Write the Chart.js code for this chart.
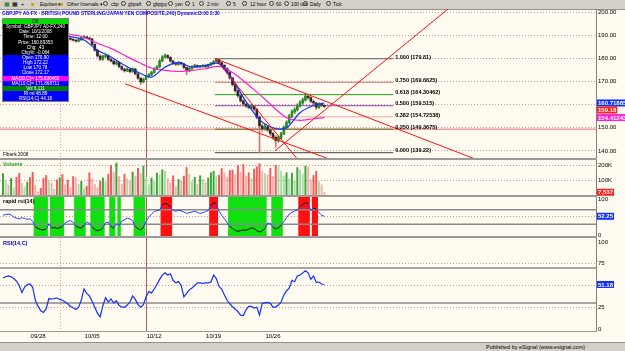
<!DOCTYPE html>
<html>
<head>
<meta charset="utf-8">
<script src="https://cdn.jsdelivr.net/npm/chart.js@4.4.1/dist/chart.umd.min.js"></script>
<style>
  body { margin: 0; width: 625px; height: 351px; overflow: hidden; background: #fffbf0;
         font-family: "Liberation Sans", Arial, sans-serif; position: relative; }
  canvas { position: absolute; left: 0; }
  .bar { position: absolute; left: 0; width: 625px; background: #d4d0c8; }
  .tb { position: absolute; top: 1.5px; font-size: 4.8px; color: #000; white-space: nowrap; }
  .ic { position: absolute; top: 1px; width: 5px; height: 5px; border: 1px solid #404040; border-radius: 50%; box-sizing: border-box; }
  .sep { position: absolute; left: 0; width: 597px; height: 2px; background: #9a9a9a; }
  .lbl { position: absolute; left: 3px; font-size: 5.5px; font-weight: bold; white-space: nowrap; }
  #legend { position: absolute; left: 2px; top: 18px; width: 65px; font-size: 4.6px; color: #fff; text-align: center; border: 1px solid #808080; }
  #legend div { height: 5.15px; line-height: 5.2px; white-space: nowrap; overflow: hidden; }
</style>
</head>
<body>

<div class="bar" style="top:0;height:9px;border-bottom:1px solid #909090"></div>
<span class="tb" style="left:4px;color:#207020;font-size:5.5px;top:1px">&#9638;</span>
<span class="tb" style="left:12px;font-size:5.5px;top:1px">&#9638;</span>
<span class="tb" style="left:21px;font-size:5.5px;top:1px">+</span>
<span class="tb" style="left:31px;color:#c8a000;font-size:5.5px;top:1px">&#9632;</span><span class="tb" style="left:40px">Equities &#9662;</span>
<span class="tb" style="left:60px;color:#c8a000;font-size:5.5px;top:1px">&#9632;</span><span class="tb" style="left:67px">Other Intervals &#9662;</span>
<span class="ic" style="left:103px"></span><span class="tb" style="left:111px">cbp</span>
<span class="ic" style="left:121px"></span><span class="tb" style="left:128px">gbpaft</span>
<span class="ic" style="left:146px"></span><span class="tb" style="left:153px">gbpjpy</span>
<span class="ic" style="left:168px"></span><span class="tb" style="left:175px">yen</span>
<span class="ic" style="left:185px"></span><span class="tb" style="left:192px">1</span>
<span class="ic" style="left:199px"></span><span class="tb" style="left:207px">2 min</span>
<span class="ic" style="left:226px"></span><span class="tb" style="left:233px">5</span>
<span class="ic" style="left:242px"></span><span class="tb" style="left:250px">12 hour</span>
<span class="ic" style="left:269px"></span><span class="tb" style="left:276px">60</span>
<span class="ic" style="left:284px"></span><span class="tb" style="left:291px">100 tick</span>
<span class="ic" style="left:303px"></span><span class="tb" style="left:310px">Daily</span>
<span class="ic" style="left:326px"></span><span class="tb" style="left:333px">Tick</span>

<canvas id="cPrice" width="625" height="150" style="top:9px"></canvas>
<canvas id="cVol" width="625" height="36" style="top:160px"></canvas>
<canvas id="cRapid" width="625" height="40" style="top:197px"></canvas>
<canvas id="cRsi" width="625" height="104" style="top:238px"></canvas>

<div class="sep" style="top:158px"></div>
<div class="sep" style="top:195px"></div>
<div class="sep" style="top:236px"></div>
<div class="sep" style="top:330.5px;height:1.5px"></div>

<div class="lbl" style="top:9.5px;left:2px;color:#0000ff;transform:scaleX(0.885);transform-origin:0 0">GBPJPY A0-FX - BRITISH POUND STERLING/JAPAN YEN COMPOSITE,240) Dynamic\3:00 2:30</div>
<div class="lbl" style="top:152px;font-weight:normal;font-size:4.6px;color:#000">Fibank 2008</div>
<div class="lbl" style="top:161px;color:#20a020">Volume</div>
<div class="lbl" style="top:198px;color:#000">rapid rsi(14)</div>
<div class="lbl" style="top:240px;color:#0000c0">RSI(14,C)</div>

<div id="legend">
  <div style="background:#00e000;color:#000">OK</div>
  <div style="background:#000">Symbol: GBPJPY A0-FX,240</div>
  <div style="background:#000">Date: 10/1/2008</div>
  <div style="background:#000">Time: 12:00</div>
  <div style="background:#000">Price: 160.89353</div>
  <div style="background:#000">Chg: .43</div>
  <div style="background:#000">Chg%: -0.084</div>
  <div style="background:#0000ff">Open 170.90</div>
  <div style="background:#0000ff">High 172.22</div>
  <div style="background:#0000ff">Low 170.78</div>
  <div style="background:#0000ff">Close 172.17</div>
  <div style="background:#ff00ff">MA(20,C)= 175.836465</div>
  <div style="background:#0000ff">MA(10,C)= 171.868711</div>
  <div style="background:#008000">Vol 6,111</div>
  <div style="background:#0000ff">RI rsi 48.89</div>
  <div style="background:#0000ff">RSI(14,C) 44.18</div>
</div>

<div class="bar" style="top:342px;height:9px;border-top:1px solid #909090"></div>
<span class="tb" style="top:344px;left:486px;font-size:5.5px">Published by eSignal (www.esignal.com)</span>

<script>
// ---- data (4-hour GBP/JPY bars) ----
const firstOpen = 193.2;
const closes = [
  193.4, 193.7, 193.5, 193.9, 194.1, 193.8, 193.1, 192.6, 193.2, 193.5,
  193.3, 193.0, 192.1, 191.2, 190.3, 189.4, 189.0, 189.6, 189.4, 189.7,
  189.5, 189.8, 189.4, 189.0, 188.6, 188.2, 187.8, 187.4, 188.0, 188.9,
  189.3, 188.7, 188.4, 186.0, 183.5, 181.0, 179.6, 180.8, 181.2, 179.5,
  178.8, 177.6, 178.2, 176.4, 175.3, 174.6, 175.2, 174.2, 175.4, 173.3,
  171.4, 169.8, 170.9, 172.2, 172.9, 173.9, 175.4, 176.3, 178.9, 180.6,
  181.2, 180.4, 178.8, 177.7, 177.4, 178.1, 177.6, 176.0, 174.6, 175.6,
  176.4, 176.9, 176.3, 176.5, 176.8, 176.4, 177.1, 177.8, 178.6, 179.4,
  178.1, 177.0, 175.6, 173.9, 171.5, 168.6, 166.0, 163.8, 161.6, 160.2,
  159.4, 158.7, 159.3, 158.0, 154.6, 150.8, 149.6, 150.4, 149.0, 147.5,
  145.9, 144.5, 145.8, 147.4, 150.1, 152.3, 155.0, 156.9, 157.8, 159.6,
  160.8, 162.0, 163.6, 163.0, 161.4, 160.7, 158.8, 160.2, 159.7, 159.18
];
const highs = [
  193.8, 194.0, 194.1, 194.3, 194.6, 194.4, 194.0, 193.4, 193.5, 193.9,
  193.8, 193.6, 193.2, 192.4, 191.5, 190.6, 189.8, 190.0, 190.0, 190.1,
  190.0, 190.2, 190.1, 189.7, 189.3, 188.9, 188.5, 188.1, 188.3, 189.3,
  189.8, 189.5, 189.0, 188.6, 186.4, 183.9, 181.6, 181.3, 181.9, 181.5,
  180.1, 179.2, 178.7, 178.5, 176.8, 175.7, 175.8, 175.5, 175.9, 175.6,
  173.6, 171.7, 171.4, 172.22, 173.4, 174.4, 175.9, 176.9, 179.4, 181.1,
  181.8, 181.6, 180.8, 179.2, 178.2, 178.6, 178.4, 177.9, 176.4, 176.1,
  176.9, 177.4, 177.2, 177.0, 177.3, 177.1, 177.5, 178.3, 179.0, 179.81,
  179.7, 178.4, 177.3, 176.0, 174.3, 171.9, 169.1, 166.5, 164.3, 162.1,
  160.7, 160.0, 160.1, 159.7, 158.4, 155.1, 151.6, 151.5, 151.0, 149.6,
  148.1, 146.6, 146.4, 148.0, 150.8, 153.0, 155.7, 157.6, 158.6, 160.3,
  161.6, 162.8, 164.6, 164.2, 163.5, 162.0, 161.1, 160.8, 160.6, 160.1
];
const lows = [
  192.9, 193.1, 193.2, 193.3, 193.6, 193.4, 192.8, 192.2, 192.3, 192.9,
  193.0, 192.6, 191.8, 190.8, 189.9, 189.0, 188.6, 188.7, 189.0, 189.1,
  189.2, 189.2, 189.0, 188.6, 188.2, 187.8, 187.4, 187.0, 187.1, 187.7,
  188.6, 188.3, 187.9, 185.6, 183.0, 180.5, 179.0, 179.2, 180.3, 179.0,
  178.3, 177.1, 177.2, 175.9, 174.8, 174.0, 174.3, 173.7, 173.9, 172.8,
  170.9, 168.6, 169.4, 170.78, 171.8, 172.5, 173.5, 175.0, 175.9, 178.5,
  180.2, 179.8, 178.3, 177.2, 176.9, 177.0, 177.1, 175.5, 172.9, 174.2,
  175.2, 176.0, 175.8, 175.9, 176.1, 175.9, 176.0, 176.8, 177.4, 178.3,
  177.7, 176.5, 175.1, 173.3, 170.9, 168.0, 165.3, 163.1, 161.0, 159.5,
  158.8, 158.1, 158.2, 157.3, 153.8, 139.22, 148.4, 149.0, 148.2, 146.6,
  145.0, 141.6, 143.8, 145.2, 147.0, 149.6, 151.8, 154.4, 156.2, 157.2,
  159.0, 160.2, 161.5, 162.2, 160.8, 159.9, 157.8, 158.3, 159.1, 158.7
];
// FX bars open at the previous close
const opens = closes.map((c, i) => (i ? closes[i - 1] : firstOpen));

// volume in thousands
const volumes = [
  145, 100, 68, 112, 48, 120, 146, 80, 55, 88,
  118, 152, 65, 22, 47, 112, 132, 98, 82, 40,
  102, 118, 138, 70, 100, 55, 125, 118, 72, 93,
  45, 60, 150, 110, 72, 50, 95, 115, 88, 140,
  200, 155, 215, 125, 72, 140, 110, 98, 155, 128,
  180, 145, 195, 120, 70, 115, 92, 148, 135, 170,
  160, 112, 85, 130, 60, 105, 95, 128, 185, 140,
  90, 120, 75, 130, 105, 85, 115, 150, 160, 125,
  132, 178, 150, 120, 165, 168, 140, 198, 155, 205,
  130, 150, 112, 175, 190, 210, 160, 145, 135, 180,
  125, 200, 195, 160, 130, 150, 110, 148, 95, 185,
  170, 140, 195, 188, 105, 132, 160, 90, 70, 20
];

const rapidRsi = [
  55, 57, 58, 56, 50, 47, 45, 48, 46, 44,
  45, 38, 22, 18, 15, 14, 17, 31, 19, 21,
  18, 20, 24, 33, 38, 40, 35, 25, 21, 19,
  27, 36, 33, 22, 15, 12, 14, 20, 34, 36,
  24, 19, 32, 26, 38, 42, 47, 45, 40, 24,
  17, 14, 22, 38, 50, 58, 65, 68, 69, 84,
  88, 85, 78, 68, 66, 69, 67, 64, 60, 62,
  64, 66, 63, 60, 62, 65, 68, 82, 90, 86,
  66, 55, 45, 35, 24, 18, 13, 10, 12, 14,
  13, 16, 20, 18, 12, 8, 12, 18, 33, 32,
  22, 17, 20, 27, 38, 48, 58, 63, 67, 69,
  79, 85, 90, 87, 68, 74, 72, 62, 55, 52
];

const rsi14 = [
  58.6, 60, 61, 60, 58, 55, 50, 42, 48, 51,
  51.7, 48, 33, 26, 21, 19, 23, 35, 34.5, 35,
  35.6, 34, 33, 31, 29, 26, 24.5, 22.5, 25, 33,
  46, 41, 38, 32, 25, 18, 14, 27, 36, 31,
  34.5, 30, 32.6, 27, 25.5, 25, 27.5, 31, 38, 34,
  28, 25, 28, 37, 43, 41.5, 46, 51, 57, 62,
  64.7, 62, 63.5, 56, 53, 54.5, 50, 37, 41, 45,
  47, 50, 53, 53, 52.5, 53, 53, 54, 62, 58,
  49, 46, 39, 33, 29, 25.6, 23, 20, 16, 15.5,
  22, 26, 26, 24, 25, 16, 29.5, 30, 30.5, 29.5,
  25, 25.5, 27.6, 31, 39, 44, 47, 56, 54.4, 61,
  62, 64.5, 67, 64.5, 57, 61, 53.5, 54, 51.7, 51.18
];

// moving averages, read every 5th bar
const maBars = [0, 5, 10, 15, 20, 25, 30, 35, 40, 45, 50, 55, 60, 65, 70, 75, 80, 85, 90, 95, 100, 105, 110, 115, 119];
const maFast = [193.3, 193.6, 193.3, 191.0, 189.6, 189.4, 187.9, 183.5, 180.6, 177.0, 174.0, 171.9, 176.2,
                178.1, 176.2, 177.0, 177.7, 170.9, 161.3, 153.5, 150.0, 150.0, 156.5, 159.6, 160.7];
const maSlow = [192.8, 193.2, 193.4, 193.0, 191.8, 190.4, 189.1, 186.5, 184.3, 181.3, 178.4, 175.8, 174.8,
                174.3, 174.8, 175.5, 176.5, 173.9, 169.3, 164.4, 159.1, 154.3, 153.2, 153.9, 154.4];

// fibonacci retracement 179.81 -> 139.22
const fibNames = ['1.000', '0.750', '0.618', '0.500', '0.382', '0.250', '0.000'];
const fibPrices = [179.81, 169.6625, 164.30462, 159.515, 154.72538, 149.3675, 139.22];
const fibFrom = 78.5, fibTo = 144.5;
const hLinePrice = 149.37;

// hand-drawn trend lines: [bar, price] end points
const trendLines = [
  [[45.2, 169.0], [121.5, 136.2]],
  [[78.5, 179.9], [175.5, 136.2]],
  [[100.7, 140.0], [165.0, 201.5]],
  [[78.5, 179.9], [109.2, 136.2]]
];

const dateBars = [13, 33, 56, 78, 100];
const dateLabels = ['09/28', '10/05', '10/12', '10/19', '10/26'];
const cursorBar = 53, markBar = 21;

// ---- chart setup ----
const FONT = '"Liberation Sans", Arial, sans-serif';
const X_MIN = -1.1, X_MAX = 219.6;
const UP = '#2a8a2a', DOWN = '#282828';

const xScale = {
  type: 'linear', min: X_MIN, max: X_MAX, offset: false, display: false,
  grid: { display: false }
};

function yScale(min, max, ticks, fmt, gridAt) {
  return {
    position: 'right', min, max,
    afterFit: ax => { ax.width = 29; ax.paddingTop = 0; ax.paddingBottom = 0; },
    afterBuildTicks: ax => { ax.ticks = ticks.map(v => ({ value: v })); },
    ticks: { padding: 2, color: '#000', font: { family: FONT, size: 6 }, callback: fmt },
    grid: { drawTicks: false, lineWidth: 1,
            color: c => (gridAt.includes(c.tick && c.tick.value) ? 'rgba(205,140,140,0.9)' : 'rgba(0,0,0,0)') },
    border: { color: '#808080', width: 1, dash: [1, 2] }
  };
}

const markers = {
  id: 'markers',
  beforeDatasetsDraw(chart) {
    const { ctx, chartArea: a, scales: { x } } = chart;
    ctx.save();
    ctx.lineWidth = 1;
    ctx.strokeStyle = '#e0a0a0';
    ctx.setLineDash([1, 2]);
    let px = Math.round(x.getPixelForValue(markBar)) + 0.5;
    ctx.beginPath(); ctx.moveTo(px, a.top); ctx.lineTo(px, a.bottom); ctx.stroke();
    ctx.setLineDash([]);
    ctx.strokeStyle = '#b06060';
    px = Math.round(x.getPixelForValue(cursorBar)) + 0.5;
    ctx.beginPath(); ctx.moveTo(px, a.top); ctx.lineTo(px, a.bottom); ctx.stroke();
    ctx.restore();
  }
};

// date labels under the RSI pane, placed with the x scale
const dateAxis = {
  id: 'dateAxis',
  afterDraw(chart) {
    const { ctx, chartArea: a, scales: { x } } = chart;
    ctx.save();
    ctx.font = '6px ' + FONT;
    ctx.fillStyle = '#000';
    ctx.textAlign = 'center';
    ctx.textBaseline = 'top';
    dateBars.forEach((b, k) => ctx.fillText(dateLabels[k], x.getPixelForValue(b), a.bottom + 2.5));
    ctx.restore();
  }
};

function tags(list) {
  return {
    id: 'tags',
    afterDraw(chart) {
      const { ctx, chartArea: a, scales: { y } } = chart;
      let last = -99;
      ctx.save();
      ctx.font = 'bold 6px ' + FONT;
      ctx.textBaseline = 'middle';
      list.forEach(t => {
        let py = y.getPixelForValue(t.value);
        if (py < last + 7) py = last + 7;
        last = py;
        const w = ctx.measureText(t.text).width + 2;
        ctx.fillStyle = t.bg;
        ctx.fillRect(a.right + 1, py - 3.5, w, 7);
        ctx.fillStyle = '#fff';
        ctx.fillText(t.text, a.right + 2, py + 0.5);
      });
      ctx.restore();
    }
  };
}

const fibText = {
  id: 'fibText',
  afterDatasetsDraw(chart) {
    const { ctx, scales: { x, y } } = chart;
    ctx.save();
    ctx.font = 'bold 5.5px ' + FONT;
    ctx.fillStyle = '#000';
    ctx.textBaseline = 'bottom';
    fibPrices.forEach((p, k) => {
      ctx.fillText(fibNames[k] + ' (' + p + ')', x.getPixelForValue(fibTo) + 2, y.getPixelForValue(p) + 1);
    });
    ctx.restore();
  }
};

function lineDs(points, color, width, order, extra) {
  return Object.assign({
    type: 'line', data: points.map(([x, y]) => ({ x, y })), borderColor: color, borderWidth: width,
    pointRadius: 0, fill: false, tension: 0, order
  }, extra || {});
}

function opts(y, bottomPad) {
  return {
    responsive: false, animation: false, events: [],
    layout: { padding: { left: 0, right: 0, top: 0, bottom: bottomPad || 0 } },
    plugins: { legend: { display: false }, tooltip: { enabled: false } },
    scales: { x: xScale, y }
  };
}

// price panel
const fibColors = ['#606060', '#c07878', '#1ea01e', '#9040c0', '#e8a8a8', '#6a6a20', '#404040'];
const priceSets = [
  { type: 'bar', data: closes.map((c, i) => ({ x: i, y: [lows[i], highs[i]] })),
    backgroundColor: c => (closes[c.dataIndex] >= opens[c.dataIndex] ? UP : '#c87878'),
    barThickness: 1, grouped: false, order: 6 },
  { type: 'bar', data: closes.map((c, i) => ({ x: i, y: [opens[i], c] })),
    backgroundColor: c => (closes[c.dataIndex] >= opens[c.dataIndex] ? UP : DOWN),
    barThickness: 2, minBarLength: 1, grouped: false, order: 5 },
  lineDs([[X_MIN, hLinePrice], [X_MAX, hLinePrice]], '#eca0a0', 1.5, 9),
  lineDs(maBars.map((b, k) => [b, maSlow[k]]), '#ff20d0', 1.2, 3, { tension: 0.3 }),
  lineDs(maBars.map((b, k) => [b, maFast[k]]), '#1030ff', 1.2, 2, { tension: 0.3 })
];
fibPrices.forEach((p, k) => priceSets.push(lineDs([[fibFrom, p], [fibTo, p]], fibColors[k], 1, 8)));
trendLines.forEach(t => priceSets.push(lineDs(t, '#ff1010', 1, 1)));

new Chart(document.getElementById('cPrice'), {
  type: 'bar',
  data: { datasets: priceSets },
  options: opts(yScale(136.5, 201.3, [140, 150, 160, 170, 180, 190, 200], v => v.toFixed(2),
                       [140, 150, 160, 170, 180, 190, 200])),
  plugins: [markers, fibText, tags([
    { value: maFast[maFast.length - 1], text: '160.71885', bg: '#1030ff' },
    { value: closes[closes.length - 1], text: '159.18', bg: '#ff2020' },
    { value: maSlow[maSlow.length - 1], text: '154.41243', bg: '#ff20d0' }
  ])]
});

// volume panel
new Chart(document.getElementById('cVol'), {
  type: 'bar',
  data: { datasets: [{
    data: volumes.map((v, i) => ({ x: i, y: v })),
    backgroundColor: c => {
      const i = c.dataIndex, up = closes[i] >= opens[i], light = i > 0 && volumes[i] < volumes[i - 1];
      return up ? (light ? '#a8dca8' : '#3aa63a') : (light ? '#f4b0b0' : '#f05a5a');
    },
    barThickness: 1.3, grouped: false
  }] },
  options: opts(yScale(-5, 235, [100, 200], v => v + 'K', [100, 200])),
  plugins: [markers, tags([{ value: volumes[volumes.length - 1], text: '7,537', bg: '#ff2020' }])]
});

// rapid rsi panel
const extreme = i => rapidRsi[i] < 30 || rapidRsi[i] > 70;
new Chart(document.getElementById('cRapid'), {
  type: 'bar',
  data: { datasets: [
    { type: 'bar', data: rapidRsi.map((v, i) => ({ x: i, y: extreme(i) ? [-10, 110] : null })),
      backgroundColor: c => (rapidRsi[c.dataIndex] > 70 ? '#ff1010' : '#10e010'),
      barThickness: 2.8, grouped: false, order: 9 },
    lineDs([[X_MIN, 70], [X_MAX, 70]], '#8a8a8a', 1.5, 5),
    lineDs([[X_MIN, 30], [X_MAX, 30]], '#8a8a8a', 1.5, 5),
    lineDs(rapidRsi.map((v, i) => [i, v]), '#2040ff', 1, 1, {
      segment: { borderColor: s => (extreme(s.p0DataIndex) && extreme(s.p1DataIndex) ? '#000' : '#2040ff') }
    })
  ] },
  options: opts(yScale(-5.6, 105.6, [0, 50, 100], v => (v === 50 ? '' : String(v)), [50])),
  plugins: [markers, tags([{ value: rapidRsi[rapidRsi.length - 1], text: '52.25', bg: '#1030ff' }])]
});

// rsi panel
new Chart(document.getElementById('cRsi'), {
  type: 'bar',
  data: { datasets: [
    lineDs([[X_MIN, 70], [X_MAX, 70]], '#8a8a8a', 1.5, 5),
    lineDs([[X_MIN, 30], [X_MAX, 30]], '#8a8a8a', 1.5, 5),
    lineDs(rsi14.map((v, i) => [i, v]), '#1030ff', 1.2, 1)
  ] },
  options: opts(yScale(-2.3, 104.6, [0, 25, 50, 75, 100], v => (v === 50 ? '' : String(v)), [25, 50, 75]), 11),
  plugins: [markers, dateAxis, tags([{ value: rsi14[rsi14.length - 1], text: '51.18', bg: '#1030ff' }])]
});
</script>
</body>
</html>
